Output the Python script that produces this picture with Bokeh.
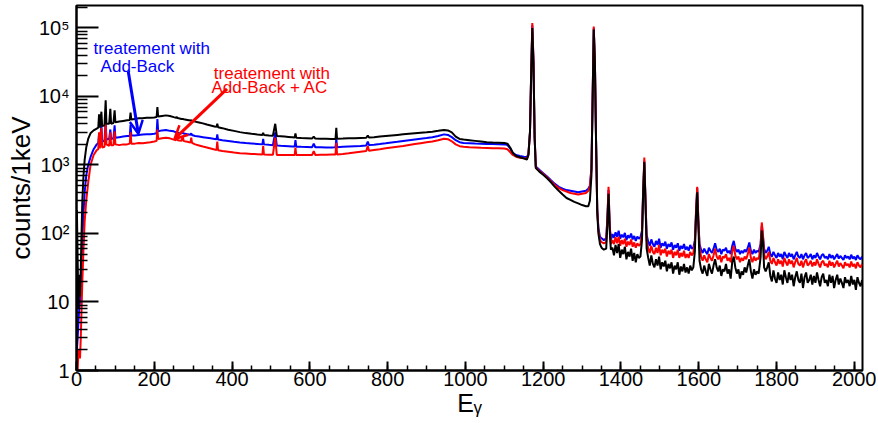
import math
from bokeh.plotting import figure
from bokeh.models import Range1d, FixedTicker, Label, Arrow, OpenHead, CustomJSTickFormatter
from bokeh.embed import file_html
from bokeh.resources import INLINE

# ---------------- data (energy in keV, counts per 1 keV) ----------------
# segment 1 : 0 - 100 keV
energy_low = [0, 1, 3, 5, 7, 9, 11, 13, 15, 18, 21, 25, 30, 36, 44, 52, 56, 58, 60, 64,
              66, 72, 75, 77, 84, 87, 89, 95, 98, 100]
black_low = [1, 220, 40, 8, 25, 12, 30, 100, 300, 700, 1200, 1800, 2400, 2900, 3200, 3400, 3500, 5500, 3500, 6000,
             3700, 3800, 8800, 4000, 4000, 6600, 4000, 4100, 6300, 4200]
blue_low = [1, 2, 3, 5, 8, 10, 20, 40, 80, 200, 400, 700, 1000, 1300, 1700, 2000, 2100, 2800, 2150, 3800,
            2200, 2250, 4500, 2350, 2400, 3300, 2400, 2450, 3800, 2500]
red_low = [1, 1, 1, 2, 2, 1.5, 3, 8, 20, 60, 150, 300, 550, 1000, 1400, 1650, 1700, 3000, 1750, 3500,
           1800, 1850, 4000, 2000, 1900, 3000, 1950, 1950, 3100, 2000]

# segment 2 : 100 - 500 keV
energy_s2 = [110, 120, 130, 137, 139, 141, 150, 160, 170, 180, 190, 200, 206, 208, 210, 220, 230, 240, 250, 256,
             258, 260, 270, 273, 276, 285, 293, 295, 297, 305, 315, 325, 335, 345, 355, 360, 362, 364, 375, 390,
             405, 420, 435, 450, 465, 478, 480, 482, 495]
black_s2 = [4300, 4400, 4500, 4550, 5800, 4600, 4700, 4800, 4800, 4900, 4900, 4950, 5000, 7000, 5100, 5200, 5300, 5200, 5000, 4900,
            5000, 4850, 4700, 4700, 4650, 4550, 4450, 4500, 4420, 4300, 4180, 4050, 3900, 3780, 3650, 3600, 4000, 3560, 3450, 3280,
            3150, 3020, 2920, 2850, 2790, 2750, 2950, 2740, 2700]
blue_s2 = [2550, 2600, 2650, 2650, 3900, 2700, 2700, 2750, 2780, 2800, 2820, 2850, 2900, 4700, 3100, 3200, 3250, 3150, 3100, 3000,
           3050, 2950, 2900, 2950, 2880, 2820, 2760, 2900, 2740, 2650, 2600, 2550, 2500, 2450, 2400, 2370, 2800, 2350, 2300, 2240,
           2180, 2130, 2090, 2060, 2030, 2000, 2400, 2000, 1970]
red_s2 = [1950, 2000, 2000, 2050, 3000, 2050, 2050, 2100, 2080, 2120, 2150, 2200, 2250, 3300, 2400, 2450, 2500, 2450, 2350, 2300,
          2900, 2300, 2250, 2600, 2230, 2180, 2120, 2500, 2100, 2000, 1930, 1860, 1800, 1740, 1680, 1660, 2200, 1640, 1600, 1560,
          1520, 1490, 1470, 1450, 1440, 1420, 1900, 1420, 1410]

# segment 3 : 500 - 1160 keV
energy_s3 = [505, 511, 515, 525, 535, 545, 555, 561, 563, 565, 578, 592, 606, 610, 614, 628, 642, 656, 666, 668,
             670, 685, 700, 715, 730, 745, 749, 752, 765, 780, 795, 810, 825, 840, 855, 870, 885, 900, 915, 930,
             945, 955, 965, 975, 985, 995, 1010, 1025, 1040, 1055, 1070, 1085, 1100, 1108, 1115, 1122, 1130, 1140, 1150, 1158]
black_s3 = [2680, 4000, 2660, 2630, 2600, 2570, 2540, 2520, 2900, 2500, 2480, 2460, 2440, 2600, 2430, 2420, 2410, 2400, 2400, 3500,
            2420, 2430, 2450, 2460, 2480, 2500, 2700, 2520, 2550, 2600, 2650, 2700, 2750, 2800, 2850, 2900, 2950, 3000, 3060, 3150,
            3250, 3200, 3000, 2600, 2400, 2350, 2300, 2250, 2200, 2150, 2130, 2120, 2100, 2050, 1800, 1500, 1350, 1300, 1250, 1200]
blue_s3 = [1950, 3000, 1930, 1910, 1895, 1880, 1865, 1860, 2300, 1850, 1840, 1830, 1820, 2050, 1815, 1810, 1800, 1800, 1810, 2400,
           1820, 1840, 1860, 1880, 1900, 1930, 2200, 1950, 1980, 2020, 2070, 2130, 2180, 2240, 2300, 2360, 2420, 2480, 2550, 2650,
           2800, 2750, 2550, 2300, 2150, 2100, 2080, 2060, 2050, 2030, 2020, 2010, 2000, 1950, 1750, 1500, 1400, 1350, 1320, 1300]
red_s3 = [1410, 2500, 1405, 1400, 1400, 1395, 1395, 1400, 1800, 1395, 1400, 1400, 1405, 1600, 1405, 1410, 1415, 1420, 1420, 2100,
          1425, 1450, 1480, 1520, 1560, 1600, 1900, 1620, 1660, 1700, 1750, 1800, 1850, 1900, 1960, 2020, 2080, 2140, 2200, 2300,
          2420, 2380, 2220, 2000, 1880, 1850, 1820, 1800, 1780, 1770, 1760, 1750, 1740, 1700, 1550, 1400, 1320, 1280, 1250, 1230]

# segment 4 : 1173 and 1332 keV lines
energy_s4 = [1162, 1166, 1169, 1172, 1175, 1178, 1181, 1190, 1200, 1210, 1220, 1230, 1240, 1250, 1260, 1270, 1280, 1290, 1300, 1310,
             1316, 1320, 1324, 1327, 1330, 1333, 1336, 1339, 1342, 1346, 1350, 1356, 1362, 1365, 1368, 1371, 1374]
black_s4 = [1400, 3000, 20000, 100000, 30000, 2500, 900, 800, 720, 640, 560, 480, 420, 370, 330, 310, 290, 275, 260, 250,
            250, 300, 700, 8000, 95000, 30000, 2000, 200, 100, 70, 62, 58, 60, 140, 380, 110, 58]
blue_s4 = [1450, 3000, 20000, 110000, 32000, 2500, 950, 850, 760, 680, 600, 530, 480, 450, 430, 420, 410, 400, 410, 420,
           450, 500, 900, 9000, 100000, 30000, 2200, 230, 120, 90, 85, 80, 85, 165, 430, 130, 80]
red_s4 = [1400, 3000, 22000, 118000, 34000, 2600, 930, 820, 740, 660, 580, 510, 460, 430, 410, 390, 380, 370, 380, 390,
          420, 480, 850, 9000, 105000, 32000, 2100, 220, 110, 80, 75, 72, 75, 170, 480, 130, 70]

# segment 5 : high-energy tail (4 keV bins between the lines)
energy_tA = list(range(1378, 1451, 4))
black_tA = [62, 48, 68, 52, 70, 44, 58, 50, 64, 42, 54, 46, 60, 40, 52, 38, 50, 44, 46]
blue_tA = [98, 86, 104, 90, 110, 84, 96, 88, 102, 80, 94, 86, 100, 82, 92, 78, 90, 84, 88]
red_tA = [80, 70, 88, 72, 90, 66, 80, 70, 84, 64, 76, 68, 82, 64, 74, 62, 72, 66, 70]

energy_p1 = [1454, 1457, 1460, 1463, 1466]
black_p1 = [80, 380, 1100, 280, 60]
blue_p1 = [110, 400, 1150, 300, 95]
red_p1 = [100, 420, 1280, 320, 80]

energy_tB = list(range(1470, 1587, 4))
black_tB = [44, 34, 48, 36, 32, 42, 34, 46, 30, 38, 33, 40, 28, 36, 31, 38, 26, 34, 30, 38,
            25, 33, 28, 36, 27, 32, 26, 34, 29, 32]
blue_tB = [76, 66, 82, 70, 64, 78, 68, 84, 62, 72, 66, 76, 60, 70, 64, 74, 58, 68, 62, 72,
           56, 66, 60, 70, 58, 64, 56, 68, 60, 62]
red_tB = [60, 52, 66, 54, 50, 62, 52, 68, 48, 58, 52, 60, 46, 56, 50, 58, 44, 54, 48, 58,
          44, 52, 46, 56, 44, 50, 44, 54, 48, 52]

energy_p2 = [1590, 1593, 1596, 1599, 1602]
black_p2 = [55, 180, 400, 130, 40]
blue_p2 = [80, 200, 460, 150, 70]
red_p2 = [72, 220, 480, 160, 62]

energy_tC = list(range(1606, 1755, 4))
black_tC = [30, 26, 34, 28, 24, 36, 30, 26, 34, 42, 32, 28, 34, 24, 30, 28, 36, 26, 30, 22,
            38, 46, 32, 26, 30, 22, 28, 25, 32, 27, 34, 42, 28, 22, 30, 25, 28, 26]
blue_tC = [58, 52, 60, 54, 50, 62, 56, 52, 60, 72, 58, 54, 60, 50, 58, 56, 62, 52, 56, 50,
           66, 78, 60, 54, 58, 50, 56, 52, 58, 54, 62, 74, 56, 50, 58, 52, 56, 54]
red_tC = [46, 40, 48, 42, 38, 50, 44, 40, 48, 60, 46, 42, 48, 38, 46, 44, 50, 40, 44, 38,
          54, 66, 48, 42, 46, 38, 44, 40, 46, 42, 50, 62, 44, 38, 46, 40, 44, 42]

energy_p3 = [1759, 1762, 1765, 1768]
black_p3 = [45, 110, 75, 32]
blue_p3 = [70, 130, 90, 60]
red_p3 = [65, 145, 100, 50]

energy_tD = list(range(1772, 2021, 4))
black_tD = [28, 32, 38, 24, 20, 29, 22, 19, 27, 21, 25, 18, 29, 23, 19, 27, 21, 25, 17, 23,
            28, 21, 19, 26, 16, 23, 27, 19, 21, 25, 18, 24, 19, 27, 21, 17, 23, 26, 19, 21,
            17, 25, 19, 24, 16, 21, 25, 18, 22, 19, 16, 23, 19, 21, 17, 24, 18, 21, 15, 23,
            19, 17, 21]
blue_tD = [52, 56, 64, 50, 46, 54, 48, 44, 52, 46, 50, 42, 54, 48, 44, 52, 46, 50, 42, 48,
           54, 46, 44, 50, 42, 48, 52, 44, 46, 50, 42, 48, 44, 52, 46, 42, 48, 50, 44, 46,
           42, 50, 44, 48, 42, 46, 50, 43, 47, 44, 41, 48, 44, 46, 42, 49, 43, 46, 41, 48,
           44, 42, 46]
red_tD = [42, 46, 54, 40, 36, 44, 38, 34, 42, 36, 40, 33, 44, 38, 34, 42, 36, 40, 32, 38,
          44, 36, 34, 40, 32, 38, 42, 34, 36, 40, 33, 38, 34, 42, 36, 32, 38, 40, 34, 36,
          32, 40, 34, 38, 32, 36, 40, 33, 37, 34, 31, 38, 34, 36, 32, 39, 33, 36, 31, 38,
          34, 32, 36]

x_major_ticks = [0, 200, 400, 600, 800, 1000, 1200, 1400, 1600, 1800, 2000]
y_major_ticks = [1, 10, 100, 1000, 10000, 100000]
x_title = "E\u1d67"
y_title = "counts/1keV"

energy = (energy_low + energy_s2 + energy_s3 + energy_s4 + energy_tA + energy_p1 + energy_tB
          + energy_p2 + energy_tC + energy_p3 + energy_tD)
black = (black_low + black_s2 + black_s3 + black_s4 + black_tA + black_p1 + black_tB
         + black_p2 + black_tC + black_p3 + black_tD)
blue = (blue_low + blue_s2 + blue_s3 + blue_s4 + blue_tA + blue_p1 + blue_tB
        + blue_p2 + blue_tC + blue_p3 + blue_tD)
red = (red_low + red_s2 + red_s3 + red_s4 + red_tA + red_p1 + red_tB
       + red_p2 + red_tC + red_p3 + red_tD)
assert len(energy) == len(black) == len(blue) == len(red)

FONT = "Liberation Sans"
X_MAX = 2021
Y_MAX = 2.13e5

p = figure(width=876, height=423, x_range=Range1d(0, X_MAX), y_range=Range1d(1, Y_MAX),
           y_axis_type="log", output_backend="svg", toolbar_location=None,
           min_border_left=76, min_border_right=14, min_border_top=5, min_border_bottom=53)
p.xgrid.visible = False
p.ygrid.visible = False
p.background_fill_color = "white"
p.border_fill_color = "white"
p.outline_line_color = "black"
p.outline_line_width = 2
p.outline_line_alpha = 1.0

for series, color in [(blue, "#0000ff"), (red, "#ff0000"), (black, "#000000")]:
    p.line(energy, series, line_color=color, line_width=2)

# axes
p.xaxis.ticker = FixedTicker(ticks=x_major_ticks,
                             minor_ticks=[v for v in range(0, 2021, 50)])
y_minor = [m * 10 ** k for k in range(0, 6) for m in range(2, 10) if m * 10 ** k < Y_MAX]
p.yaxis.ticker = FixedTicker(ticks=y_major_ticks, minor_ticks=y_minor)
p.yaxis.formatter = CustomJSTickFormatter(code="""
const e = Math.round(Math.log10(tick));
const sup = ['\u2070','\u00b9','\u00b2','\u00b3','\u2074','\u2075','\u2076'];
if (e == 0) return '1';
if (e == 1) return '10';
return '10' + sup[e];
""")

for ax in (p.xaxis[0], p.yaxis[0]):
    ax.axis_line_width = 2
    ax.axis_line_color = "black"
    ax.major_tick_out = 0
    ax.minor_tick_out = 0
    ax.major_tick_line_width = 2
    ax.minor_tick_line_width = 1.5
    ax.major_label_text_font = FONT
    ax.major_label_text_font_size = "20px"
    ax.major_label_text_color = "black"
    ax.axis_label_text_font = FONT
    ax.axis_label_text_font_style = "normal"
    ax.axis_label_text_color = "black"

p.xaxis.major_tick_in = 9
p.xaxis.minor_tick_in = 5
p.xaxis.major_label_standoff = 1
p.xaxis.axis_label = x_title
p.xaxis.axis_label_text_font_size = "25px"
p.xaxis.axis_label_standoff = 0

p.yaxis.major_tick_in = 22
p.yaxis.minor_tick_in = 11
p.yaxis.major_label_standoff = 7
p.yaxis.axis_label = y_title
p.yaxis.axis_label_text_font_size = "26px"
p.yaxis.axis_label_standoff = 0

# annotations
BLUE = "#0000ff"
RED = "#ff0000"
p.add_layout(Label(x=44, y=49700, text="treatement with", text_color=BLUE, text_font=FONT,
                   text_font_size="17px", text_baseline="alphabetic"))
p.add_layout(Label(x=62, y=27000, text="Add-Back", text_color=BLUE, text_font=FONT,
                   text_font_size="17px", text_baseline="alphabetic"))
p.add_layout(Label(x=353, y=21900, text="treatement with", text_color=RED, text_font=FONT,
                   text_font_size="17px", text_baseline="alphabetic"))
p.add_layout(Label(x=347, y=13700, text="Add-Back + AC", text_color=RED, text_font=FONT,
                   text_font_size="17px", text_baseline="alphabetic"))

p.add_layout(Arrow(x_start=133, y_start=23400, x_end=159, y_end=2850, line_color=BLUE, line_width=3,
                   end=OpenHead(size=13, line_color=BLUE, line_width=2.5)))
p.add_layout(Arrow(x_start=387, y_start=12900, x_end=252, y_end=2400, line_color=RED, line_width=3,
                   end=OpenHead(size=13, line_color=RED, line_width=2.5)))

open("out.html", "w").write(file_html(p, INLINE))
